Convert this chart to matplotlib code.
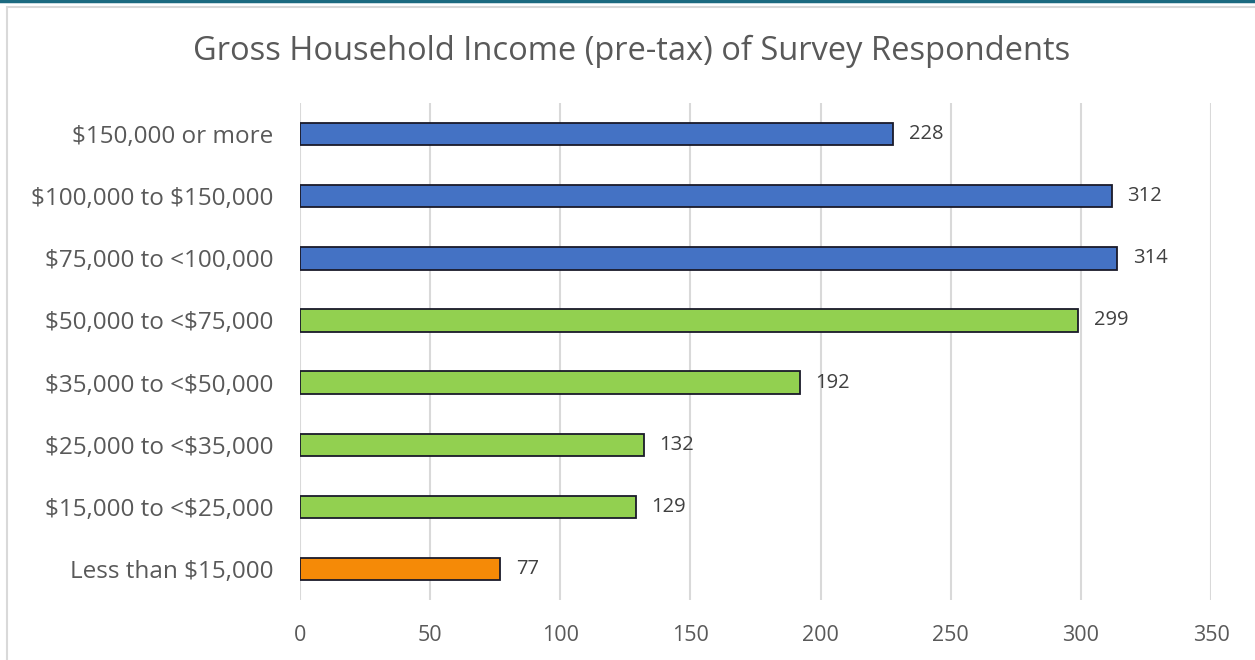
import matplotlib.pyplot as plt
from matplotlib.lines import Line2D
from matplotlib.patches import Rectangle

plt.rcParams["font.family"] = ["Open Sans", "DejaVu Sans"]

# income brackets, bottom to top
categories = [
    "Less than $15,000",
    "$15,000 to <$25,000",
    "$25,000 to <$35,000",
    "$35,000 to <$50,000",
    "$50,000 to <$75,000",
    "$75,000 to <100,000",
    "$100,000 to $150,000",
    "$150,000 or more",
]
counts = [77, 129, 132, 192, 299, 314, 312, 228]
bar_colors = ["#F58A07"] + ["#92D050"] * 4 + ["#4472C4"] * 3
x_ticks = [0, 50, 100, 150, 200, 250, 300, 350]

fig = plt.figure(figsize=(12.55, 6.6), dpi=100)
ax = fig.add_axes([0.239, 0.0909, 0.726, 0.753])

y = range(len(categories))
ax.barh(y, counts, height=0.36, color=bar_colors, edgecolor="#1a1a2a",
        linewidth=1.3, zorder=3)

for yi, v in zip(y, counts):
    ax.annotate(str(v), (v, yi), xytext=(11, 0), textcoords="offset points",
                va="center", ha="left", fontsize=14.5, color="#404040")

ax.set_xlim(0, 350)
ax.set_ylim(-0.5, len(categories) - 0.5)
ax.set_xticks(x_ticks)
ax.set_yticks(list(y))
# escape the dollar signs so they are not read as mathtext
ax.set_yticklabels([c.replace("$", r"\$") for c in categories])
ax.tick_params(axis="both", length=0, colors="#595959")
ax.tick_params(axis="x", pad=18, labelsize=15.5)
ax.tick_params(axis="y", pad=19, labelsize=17.5)
ax.xaxis.grid(True, color="#D9D9D9", linewidth=1.5, zorder=0)
for s in ax.spines.values():
    s.set_visible(False)

fig.text(0.503, 0.922, "Gross Household Income (pre-tax) of Survey Respondents",
         ha="center", va="center", fontsize=23.5, color="#595959")

# outer frame and top accent line
fig.patches.append(Rectangle((0.0056, -0.01), 1.2, 1.0, transform=fig.transFigure,
                             fill=False, edgecolor="#D9D9D9", linewidth=1.5))
fig.lines.append(Line2D([0, 1], [0.998, 0.998], transform=fig.transFigure,
                        color="#1B6A80", linewidth=2.5))

fig.savefig("out.png", dpi=100)
